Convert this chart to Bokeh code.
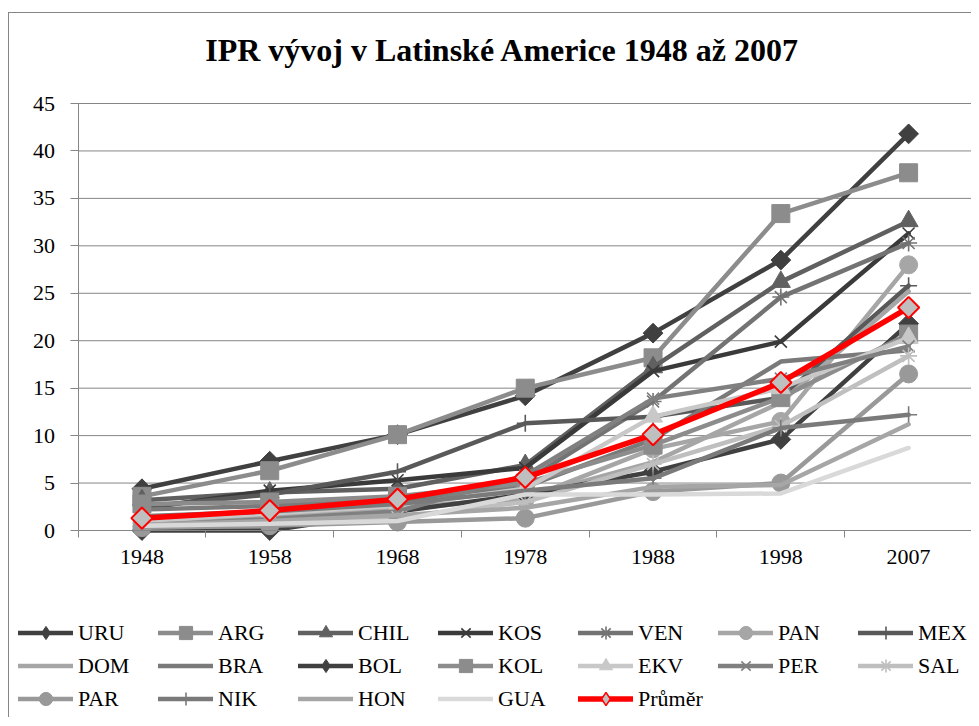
import math
from bokeh.plotting import figure
from bokeh.models import Legend, LegendItem, FixedTicker, Range1d, Label
from bokeh.embed import file_html
from bokeh.resources import INLINE

# ---- data ----
title_text = "IPR vývoj v Latinské Americe 1948 až 2007"
years = ["1948", "1958", "1968", "1978", "1988", "1998", "2007"]
y_ticks = [0, 5, 10, 15, 20, 25, 30, 35, 40, 45]

URU  = [4.4, 7.3, 10.1, 14.2, 20.8, 28.5, 41.8]
ARG  = [3.6, 6.3, 10.1, 15.0, 18.2, 33.4, 37.7]
CHIL = [3.2, 4.0, 4.4, 6.9, 17.2, 26.2, 32.6]
KOS  = [2.3, 4.2, 5.3, 6.6, 16.8, 19.9, 31.3]
VEN  = [1.2, 2.0, 3.0, 5.2, 13.6, 24.6, 30.3]
PAN  = [0.8, 1.5, 2.5, 3.3, 8.6, 11.5, 28.0]
MEX  = [2.5, 3.8, 6.2, 11.3, 12.0, 14.0, 25.8]
DOM  = [1.0, 1.6, 2.2, 3.5, 7.2, 13.5, 25.2]
BRA  = [2.2, 2.6, 3.4, 4.6, 9.6, 17.8, 19.0]
BOL  = [0.0, 0.0, 2.0, 3.8, 6.2, 9.6, 21.8]
KOL  = [2.8, 3.0, 3.6, 5.0, 9.0, 14.0, 20.7]
EKV  = [1.0, 1.8, 2.6, 4.4, 12.0, 15.0, 20.3]
PER  = [0.5, 1.2, 2.0, 5.8, 13.9, 16.0, 19.4]
SAL  = [0.4, 0.8, 1.4, 3.0, 7.0, 11.0, 18.4]
PAR  = [0.3, 0.5, 0.9, 1.3, 4.1, 5.0, 16.5]
NIK  = [1.5, 2.0, 2.8, 4.2, 5.5, 10.8, 12.2]
HON  = [0.6, 1.0, 1.6, 2.4, 4.6, 4.8, 11.2]
GUA  = [0.5, 0.7, 1.0, 3.8, 3.8, 3.9, 8.7]
PRUMER = [1.3, 2.1, 3.3, 5.6, 10.1, 15.6, 23.5]

names = ["URU", "ARG", "CHIL", "KOS", "VEN", "PAN", "MEX",
         "DOM", "BRA", "BOL", "KOL", "EKV", "PER", "SAL",
         "PAR", "NIK", "HON", "GUA"]
values = [URU, ARG, CHIL, KOS, VEN, PAN, MEX, DOM, BRA, BOL, KOL, EKV,
          PER, SAL, PAR, NIK, HON, GUA]
colors = ["#404040", "#8c8c8c", "#606060", "#3a3a3a", "#737373", "#a6a6a6", "#595959",
          "#a6a6a6", "#7a7a7a", "#404040", "#8c8c8c", "#c8c8c8", "#808080", "#bfbfbf",
          "#999999", "#7a7a7a", "#a6a6a6", "#d9d9d9"]
markers = ["diamond", "square", "triangle", "x", "asterisk", "circle", "cross",
           None, None, "diamond", "square", "triangle", "x", "asterisk",
           "circle", "cross", None, None]

n = len(years)
xs = [i + 0.5 for i in range(n)]
FONT = "Liberation Serif"
GRAY = "#868686"

# frame covers page x 9..963, y 12..715 ; value 0 at y=529, 45 at y=102
px_per_cat = (963 - 76) / n
px_per_unit = (529 - 102) / 45.0
x_min = -(76 - 9) / px_per_cat
y_min = -(715 - 529) / px_per_unit
y_max = 45 + (102 - 12) / px_per_unit

p = figure(width=963, height=705, output_backend="svg", toolbar_location=None,
           x_range=Range1d(x_min, n), y_range=Range1d(y_min, y_max),
           min_border_left=1, min_border_right=0, min_border_top=0, min_border_bottom=2)
p.margin = (12, 0, 0, 8)
p.styles = {"border-left": "1px solid " + GRAY, "border-top": "1px solid " + GRAY}
p.outline_line_color = None
p.background_fill_color = "white"
p.border_fill_color = "white"

p.add_layout(Label(x=492, y=667, x_units="screen", y_units="screen", text=title_text,
                   text_align="center", text_baseline="middle", text_font=FONT,
                   text_font_size="32px", text_font_style="bold", text_color="black"))

p.xgrid.grid_line_color = None
p.ygrid.grid_line_color = None

# horizontal gridlines, from the tick values, spanning the category range
p.segment(x0=[0] * (len(y_ticks) - 1), x1=[n] * (len(y_ticks) - 1),
          y0=y_ticks[1:], y1=y_ticks[1:], line_color=GRAY, line_width=1)

p.yaxis.fixed_location = 0
p.yaxis.bounds = (0, 45)
p.yaxis.ticker = FixedTicker(ticks=y_ticks)
p.yaxis.axis_line_color = GRAY
p.yaxis.major_tick_line_color = GRAY
p.yaxis.major_tick_out = 8
p.yaxis.major_tick_in = 0
p.yaxis.minor_tick_line_color = None
p.yaxis.major_label_standoff = 15
p.yaxis.major_label_text_font = FONT
p.yaxis.major_label_text_font_size = "22px"
p.yaxis.major_label_text_color = "black"

p.xaxis.fixed_location = 0
p.xaxis.bounds = (0, n)
p.xaxis.ticker = FixedTicker(ticks=xs, minor_ticks=list(range(n + 1)))
p.xaxis.major_label_overrides = {x: y for x, y in zip(xs, years)}
p.xaxis.axis_line_color = GRAY
p.xaxis.major_tick_line_color = None
p.xaxis.major_tick_out = 0
p.xaxis.major_tick_in = 0
p.xaxis.minor_tick_line_color = GRAY
p.xaxis.minor_tick_out = 7
p.xaxis.minor_tick_in = 0
p.xaxis.major_label_standoff = 12
p.xaxis.major_label_text_font = FONT
p.xaxis.major_label_text_font_size = "22px"
p.xaxis.major_label_text_color = "black"

items = []
for name, vals, col, mk in zip(names, values, colors, markers):
    line_r = p.line(xs, vals, line_width=4.5, line_color=col, line_join="round",
                    line_cap="round")
    rs = [line_r]
    if mk == "diamond":
        # narrow diamond (used by the legend), covered by a rotated square in the plot
        rs.append(p.scatter(xs, vals, marker="diamond", size=18, fill_color=col,
                            line_color=col))
        p.scatter(xs, vals, marker="square", angle=math.pi / 4, size=14,
                  fill_color=col, line_color=col)
    elif mk == "square":
        rs.append(p.scatter(xs, vals, marker="square", size=18, fill_color=col, line_color=col))
    elif mk == "triangle":
        rs.append(p.scatter(xs, vals, marker="triangle", size=19, fill_color=col, line_color=col))
    elif mk == "circle":
        rs.append(p.scatter(xs, vals, marker="circle", size=18, fill_color=col, line_color=col))
    elif mk in ("x", "asterisk", "cross"):
        rs.append(p.scatter(xs, vals, marker=mk, size=17, fill_color=None,
                            line_color=col, line_width=1.6))
    items.append(LegendItem(label=name, renderers=rs))

avg_line = p.line(xs, PRUMER, line_width=5.5, line_color="#ff0000", line_join="round",
                  line_cap="round")
avg_leg = p.scatter(xs, PRUMER, marker="diamond", size=16, fill_color="#bfbfbf",
                    line_color="#ff0000", line_width=1.5)
p.scatter(xs, PRUMER, marker="square", angle=math.pi / 4, size=15,
          fill_color="#bfbfbf", line_color="#ff0000", line_width=2)
items.append(LegendItem(label="Průměr", renderers=[avg_line, avg_leg]))

legend = Legend(items=items, location=(8, 1), orientation="horizontal", ncols=7)
legend.glyph_width = 55
legend.glyph_height = 33
legend.label_height = 33
legend.label_width = 80
legend.label_standoff = 5
legend.spacing = 0
legend.padding = 0
legend.margin = 0
legend.border_line_color = None
legend.background_fill_alpha = 0
legend.label_text_font = FONT
legend.label_text_font_size = "22px"
legend.label_text_color = "black"
p.add_layout(legend, "center")

open("out.html", "w").write(file_html(p, INLINE))
